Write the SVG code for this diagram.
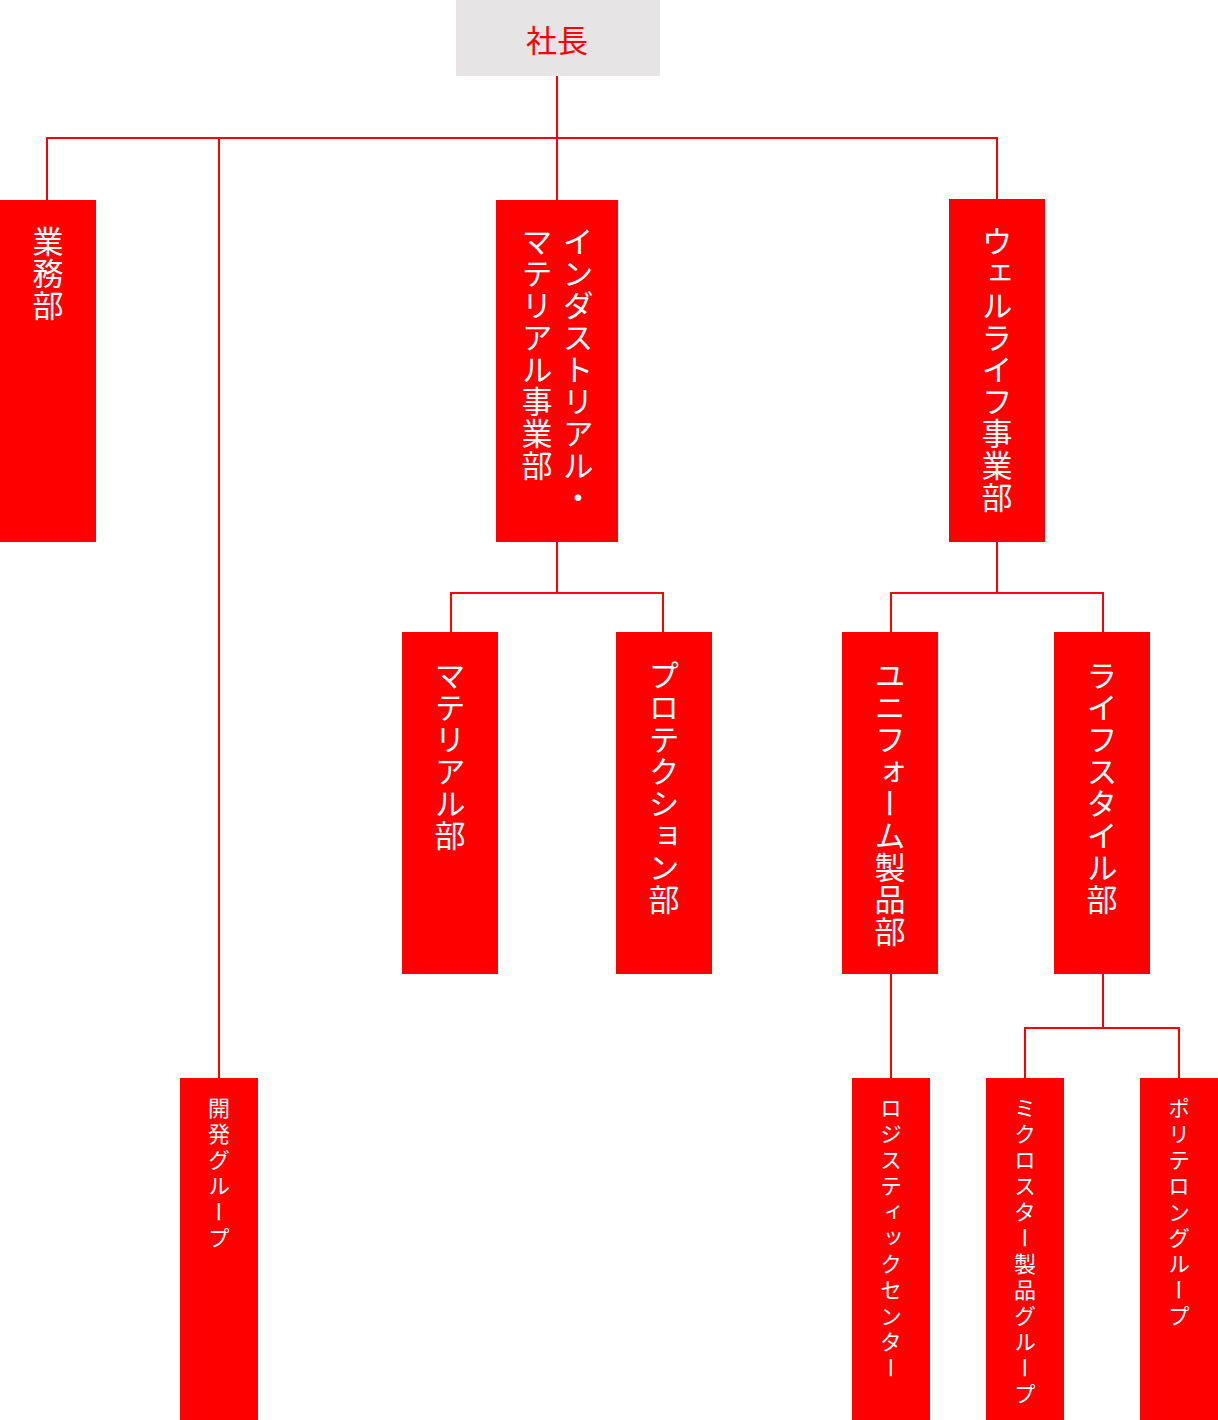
<svg xmlns="http://www.w3.org/2000/svg" width="1218" height="1420" viewBox="0 0 1218 1420">
<style>
.box{fill:#ff0000}
.top{fill:#e6e4e5}
.ln{fill:none;stroke:#ff0000;stroke-width:2}
.vt{font-family:"Noto Sans CJK JP","Noto Sans CJK SC",sans-serif;fill:#ffffff;writing-mode:vertical-rl}
.big{font-size:31px;letter-spacing:1px}
.sm{font-size:22px;letter-spacing:4px}
.ttl{font-family:"Noto Sans CJK JP","Noto Sans CJK SC",sans-serif;fill:#ff0000;font-size:31px;text-anchor:middle}
</style>
<rect width="1218" height="1420" fill="#ffffff"/>
<g id="connectors">
<path class="ln" d="M557 76V138M47 200V138H997V200M219 138V1078M557 138V200"/>
<path class="ln" d="M557 542V593M451 632V593H663V632"/>
<path class="ln" d="M997 542V593M891 632V593H1103V632"/>
<path class="ln" d="M891 974V1078"/>
<path class="ln" d="M1103 974V1028M1025 1078V1028H1179V1078"/>
</g>
<g id="shacho"><rect class="top" x="456" y="0" width="204" height="76"/><text class="ttl" x="557" y="52">社長</text></g>
<g id="gyomu"><rect class="box" x="0" y="200" width="96" height="342"/><text class="vt big" x="48" y="226">業務部</text></g>
<g id="industrial"><rect class="box" x="496" y="200" width="122" height="342"/><text class="vt big" x="578" y="226">インダストリアル・</text><text class="vt big" x="537" y="226">マテリアル事業部</text></g>
<g id="wellife"><rect class="box" x="949" y="199" width="96" height="343"/><text class="vt big" x="997" y="226">ウェルライフ事業部</text></g>
<g id="material"><rect class="box" x="402" y="632" width="96" height="342"/><text class="vt big" x="450" y="660">マテリアル部</text></g>
<g id="protection"><rect class="box" x="616" y="632" width="96" height="342"/><text class="vt big" x="664" y="660">プロテクション部</text></g>
<g id="uniform"><rect class="box" x="842" y="632" width="96" height="342"/><text class="vt big" x="890" y="660">ユニフォーム製品部</text></g>
<g id="lifestyle"><rect class="box" x="1054" y="632" width="96" height="342"/><text class="vt big" x="1102" y="660">ライフスタイル部</text></g>
<g id="kaihatsu"><rect class="box" x="180" y="1078" width="78" height="342"/><text class="vt sm" x="219" y="1097">開発グループ</text></g>
<g id="logistics"><rect class="box" x="852" y="1078" width="78" height="342"/><text class="vt sm" x="891" y="1097">ロジスティックセンター</text></g>
<g id="microstar"><rect class="box" x="986" y="1078" width="78" height="342"/><text class="vt sm" x="1025" y="1097">ミクロスター製品グループ</text></g>
<g id="politelon"><rect class="box" x="1140" y="1078" width="78" height="342"/><text class="vt sm" x="1179" y="1097">ポリテロングループ</text></g>
</svg>
